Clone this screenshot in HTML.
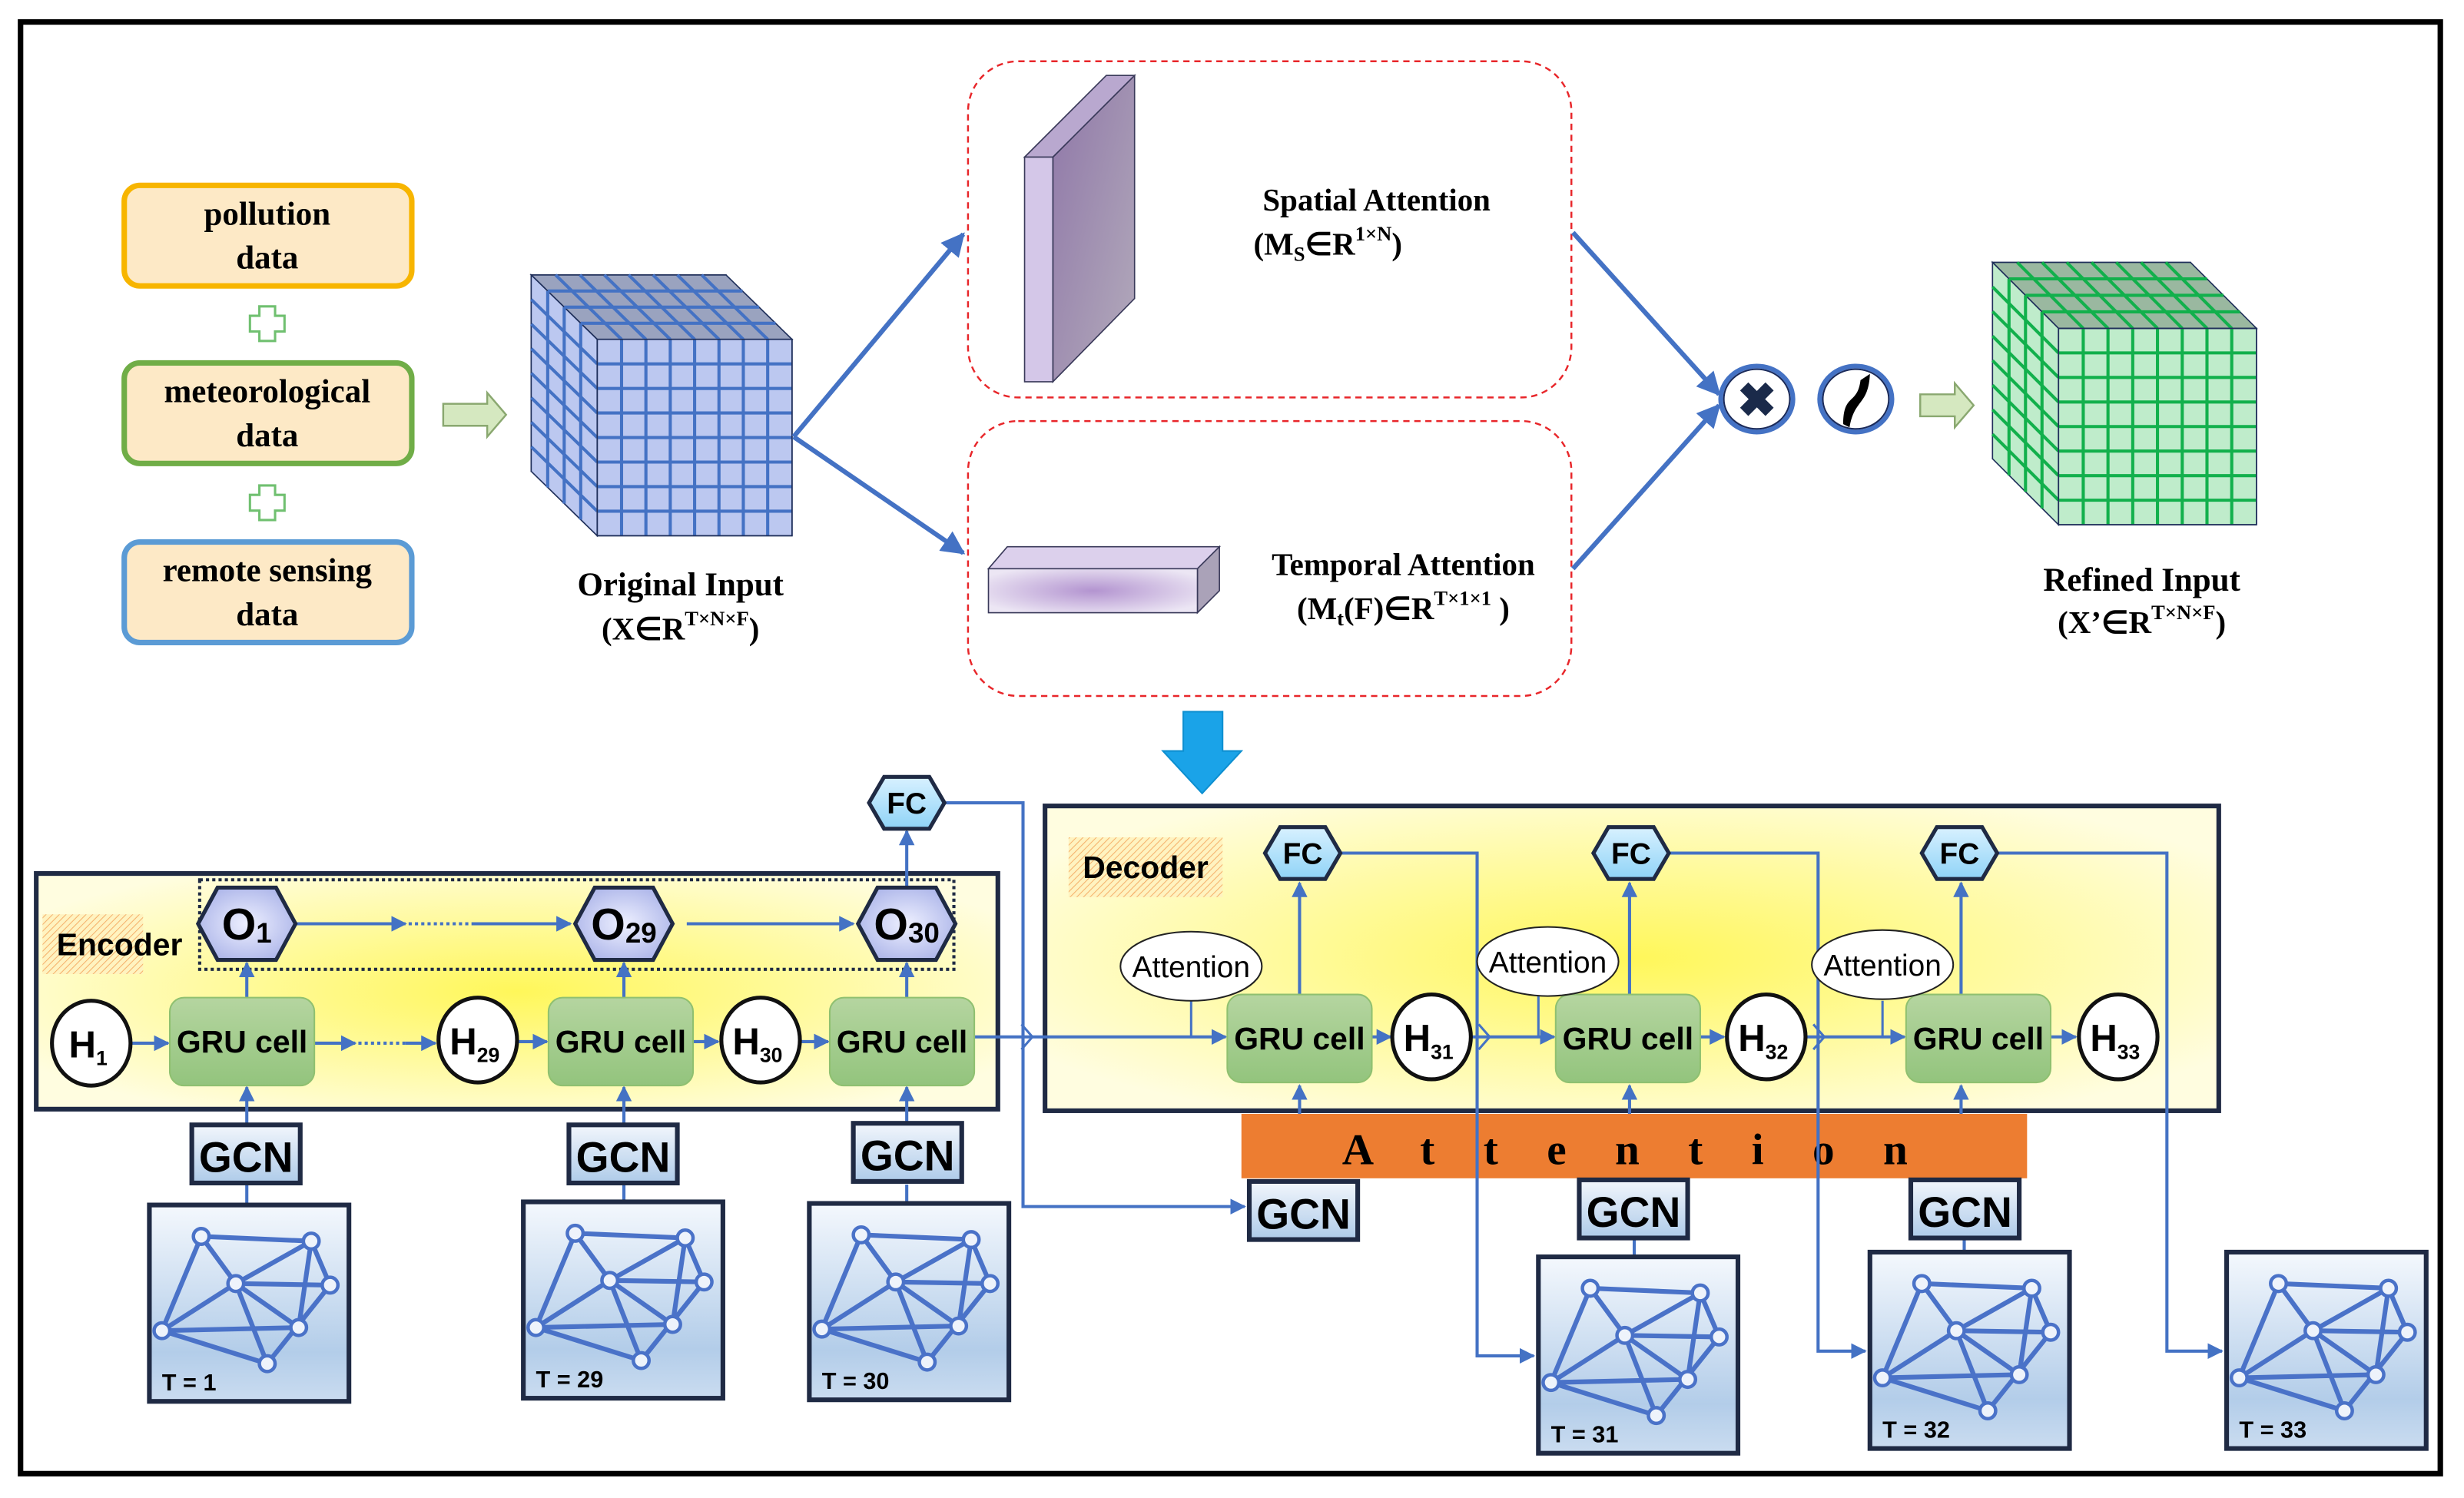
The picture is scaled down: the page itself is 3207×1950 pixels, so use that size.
<!DOCTYPE html>
<html><head><meta charset="utf-8"><style>html,body{margin:0;padding:0;background:#fff}svg{display:block}</style></head>
<body>
<svg id="s" xmlns="http://www.w3.org/2000/svg" width="3207" height="1950" viewBox="0 0 1568 953.5">
<defs>
<radialGradient id="yel" cx="50%" cy="50%" r="60%"><stop offset="0" stop-color="#fff75a"/><stop offset="1" stop-color="#fffde0"/></radialGradient>
<linearGradient id="gru" x1="0" y1="0" x2="0" y2="1"><stop offset="0" stop-color="#b5d5a0"/><stop offset="1" stop-color="#93c47d"/></linearGradient>
<linearGradient id="gcn" x1="0" y1="0" x2="0" y2="1"><stop offset="0" stop-color="#f2f6fc"/><stop offset="1" stop-color="#aecbe9"/></linearGradient>
<linearGradient id="gbox" x1="0" y1="0" x2="0" y2="1"><stop offset="0" stop-color="#f4f8fd"/><stop offset="0.75" stop-color="#b3cde9"/><stop offset="1" stop-color="#cadcf0"/></linearGradient>
<radialGradient id="hex" cx="50%" cy="50%" r="60%"><stop offset="0" stop-color="#eef0ff"/><stop offset="1" stop-color="#a9b2e8"/></radialGradient>
<linearGradient id="fc" x1="0" y1="0" x2="0" y2="1"><stop offset="0" stop-color="#d8f1ff"/><stop offset="1" stop-color="#8fd3f7"/></linearGradient>
<radialGradient id="pur" cx="50%" cy="50%" r="60%"><stop offset="0" stop-color="#b394d0"/><stop offset="1" stop-color="#ece6f4"/></radialGradient>
<linearGradient id="pur2" x1="0" y1="0" x2="1" y2="1"><stop offset="0" stop-color="#8f77a8"/><stop offset="1" stop-color="#b3abbb"/></linearGradient>
<pattern id="hatch" width="3" height="3" patternUnits="userSpaceOnUse" patternTransform="rotate(45)"><rect width="3" height="3" fill="#fff3c0"/><line x1="0" y1="0" x2="0" y2="3" stroke="#f5b06a" stroke-width="1"/></pattern>
<marker id="ar" viewBox="0 0 10 10" refX="9" refY="5" markerWidth="5" markerHeight="5" orient="auto"><path d="M0,0L10,5L0,10z" fill="#4472c4"/></marker>
</defs>
<rect x="13" y="14" width="1540" height="924" fill="#fff" stroke="#000" stroke-width="3.5"/>
<g id="g"></g>
</svg>
<script>
const g=document.getElementById('g');let h='';
const B='#4472c4';
function L(x1,y1,x2,y2,w,a){h+=`<line x1="${x1}" y1="${y1}" x2="${x2}" y2="${y2}" stroke="${B}" stroke-width="${w||2}" ${a?'marker-end="url(#ar)"':''}/>`;}
function P(d,w,a){h+=`<path d="${d}" fill="none" stroke="${B}" stroke-width="${w||2}" ${a?'marker-end="url(#ar)"':''}/>`;}
function T(x,y,s,sz,o){h+=`<text x="${x}" y="${y}" font-size="${sz}" ${o||''}>${s}</text>`;}
const SER='font-family="Liberation Serif,serif" font-weight="bold" text-anchor="middle"';
const SAN='font-family="Liberation Sans,sans-serif" font-weight="bold" text-anchor="middle"';
// input boxes
[[118,'#f7b500','pollution'],[231,'#70ad47','meteorological'],[345,'#5b9bd5','remote sensing']].forEach(b=>{
h+=`<rect x="79" y="${b[0]}" width="183" height="64" rx="10" fill="#fde9c6" stroke="${b[1]}" stroke-width="3.5"/>`;
T(170,b[0]+25,b[2],21,SER);T(170,b[0]+53,'data',21,SER);});
[206,320].forEach(y=>{h+=`<path d="M165,${y-11}h10v6h6v10h-6v6h-10v-6h-6v-10h6z" fill="#fff" stroke="#70c070" stroke-width="1.5" transform="translate(0,-0)"/>`;});
function garrow(x,y,w){h+=`<path d="M${x},${y-7}h${w-12}v-7l12,14l-12,14v-7h-${w-12}z" fill="#d5e8c0" stroke="#8aa870" stroke-width="1.2"/>`;}
garrow(282,264,40);garrow(1222,258,34);
// cube
function cube(fx,fy,fw,fh,dx,dy,fill,top,line,n){
 // back layers
 for(let k=3;k>=0;k--){const ox=dx*k/3, oy=dy*k/3;
  const x=fx+ox,y=fy+oy;
  h+=`<polygon points="${x},${y} ${x+fw},${y} ${x+fw},${y+fh} ${x},${y+fh}" fill="${fill}" stroke="#1f2f5a" stroke-width="0.8"/>`;
 }
 // top face
 h+=`<polygon points="${fx},${fy} ${fx+fw},${fy} ${fx+fw+dx},${fy+dy} ${fx+dx},${fy+dy}" fill="${top}" stroke="#1f2f5a" stroke-width="0.8"/>`;
 h+=`<polygon points="${fx},${fy} ${fx+dx},${fy+dy} ${fx+dx},${fy+fh+dy} ${fx},${fy+fh}" fill="${fill}" stroke="#1f2f5a" stroke-width="0.8"/>`;
 for(let i=1;i<n;i++){const x=fx+fw*i/n;L(0,0,0,0);h+=`<line x1="${x}" y1="${fy}" x2="${x}" y2="${fy+fh}" stroke="${line}" stroke-width="2"/><line x1="${x}" y1="${fy}" x2="${x+dx}" y2="${fy+dy}" stroke="${line}" stroke-width="2"/>`;
  const y=fy+fh*i/n;h+=`<line x1="${fx}" y1="${y}" x2="${fx+fw}" y2="${y}" stroke="${line}" stroke-width="2"/><line x1="${fx}" y1="${y}" x2="${fx+dx}" y2="${y+dy}" stroke="${line}" stroke-width="2"/>`;}
 for(let k=1;k<4;k++){const ox=dx*k/4,oy=dy*k/4;h+=`<line x1="${fx+ox}" y1="${fy+oy}" x2="${fx+fw+ox}" y2="${fy+oy}" stroke="${line}" stroke-width="2"/><line x1="${fx+ox}" y1="${fy+oy}" x2="${fx+ox}" y2="${fy+fh+oy}" stroke="${line}" stroke-width="2"/>`;}
 h+=`<rect x="${fx}" y="${fy}" width="${fw}" height="${fh}" fill="none" stroke="#1f2f5a" stroke-width="0.8"/>`;
}
cube(380,216,124,125,-42,-41,'#bcc8f0','#9aa3bf',B,8);
cube(1310,209,126,125,-42,-42,'#bfeccb','#9ab8a0','#12b04c',8);
T(433,379,'Original Input',21,SER);T(433,407,'(X∈R<tspan font-size="13" dy="-9">T×N×F</tspan><tspan dy="9">)</tspan>',20,SER);
T(1363,376,'Refined Input',21,SER);T(1363,403,'(X’∈R<tspan font-size="13" dy="-9">T×N×F</tspan><tspan dy="9">)</tspan>',20,SER);
// red dashed boxes
h+=`<rect x="616" y="39" width="384" height="214" rx="32" fill="none" stroke="#e8262a" stroke-width="1.2" stroke-dasharray="4,3"/>`;
h+=`<rect x="616" y="268" width="384" height="175" rx="32" fill="none" stroke="#e8262a" stroke-width="1.2" stroke-dasharray="4,3"/>`;
// spatial slab
h+=`<polygon points="670,100 722,48 722,190 670,243" fill="url(#pur2)" stroke="#3a3a5a" stroke-width="0.8"/>`;
h+=`<polygon points="652,100 704,48 722,48 670,100" fill="#b9a8cf" stroke="#3a3a5a" stroke-width="0.8"/>`;
h+=`<rect x="652" y="100" width="18" height="143" fill="#d4c7e8" stroke="#3a3a5a" stroke-width="0.8"/>`;
// temporal slab
h+=`<polygon points="629,362 641,348 776,348 762,362" fill="#dcd0ec" stroke="#3a3a5a" stroke-width="0.8"/>`;
h+=`<polygon points="762,362 776,348 776,376 762,390" fill="#aaa2b8" stroke="#3a3a5a" stroke-width="0.8"/>`;
h+=`<rect x="629" y="362" width="133" height="28" fill="url(#pur)" stroke="#3a3a5a" stroke-width="0.8"/>`;
T(876,134,'Spatial Attention',20,SER);T(845,162,'(M<tspan font-size="13" dy="4">S</tspan><tspan dy="-4">∈R</tspan><tspan font-size="13" dy="-9">1×N</tspan><tspan dy="9">)</tspan>',20,SER);
T(893,366,'Temporal Attention',20,SER);T(893,394,'(M<tspan font-size="13" dy="4">t</tspan><tspan dy="-4">(F)∈R</tspan><tspan font-size="13" dy="-9">T×1×1</tspan><tspan dy="9"> )</tspan>',20,SER);
L(505,278,613,149,3,1);L(505,278,613,352,3,1);L(1001,148,1094,251,3,1);L(1001,362,1094,258,3,1);
h+=`<ellipse cx="1118" cy="254" rx="23" ry="21" fill="#fff" stroke="${B}" stroke-width="3"/><ellipse cx="1118" cy="254" rx="21" ry="19" fill="none" stroke="#1a2a5a" stroke-width="1"/>`;
h+=`<text x="1118" y="265" font-size="30" font-family="Liberation Sans,sans-serif" font-weight="bold" fill="#1a2a4a" text-anchor="middle">✖</text>`;
h+=`<ellipse cx="1181" cy="254" rx="23" ry="21" fill="#fff" stroke="${B}" stroke-width="3"/><ellipse cx="1181" cy="254" rx="21" ry="19" fill="none" stroke="#1a2a5a" stroke-width="1"/>`;
h+=`<path d="M1173,270 C1173,250 1182,258 1184,242 L1190,238 C1189,258 1180,254 1177,272z" fill="#000"/>`;
// big blue down arrow
h+=`<path d="M753,453h25v25h12l-25,27l-25,-27h13z" fill="#1aa3e8" stroke="#0d8fd0" stroke-width="1"/>`;
// encoder / decoder boxes
h+=`<rect x="23" y="556" width="612" height="150" fill="url(#yel)" stroke="#1f2a44" stroke-width="3"/>`;
h+=`<rect x="665" y="513" width="747" height="194" fill="url(#yel)" stroke="#1f2a44" stroke-width="3"/>`;
h+=`<rect x="127" y="560" width="480" height="57" fill="none" stroke="#1f2a44" stroke-width="2" stroke-dasharray="2,2"/>`;
h+=`<rect x="27" y="582" width="64" height="38" fill="url(#hatch)"/>`;T(76,608,'Encoder',20,SAN);
h+=`<rect x="680" y="533" width="98" height="38" fill="url(#hatch)"/>`;T(729,559,'Decoder',20,SAN);
// orange attention bar
h+=`<rect x="790" y="709" width="500" height="41" fill="#ed7d31"/>`;
T(1040,741,'A t t e n t i o n',28,'font-family="Liberation Serif,serif" font-weight="bold" text-anchor="middle" letter-spacing="12"');
// connectors
L(84,664,107,664,2,1);L(200,664,226,664,2,1);h+=`<line x1="228" y1="664" x2="258" y2="664" stroke="${B}" stroke-width="2" stroke-dasharray="2,2"/>`;L(258,664,277,664,2,1);
L(330,663,348,663,2,1);L(441,663,457,663,2,1);L(510,663,527,663,2,1);
L(188,588,258,588,2,1);h+=`<line x1="260" y1="588" x2="300" y2="588" stroke="${B}" stroke-width="2" stroke-dasharray="2,2"/>`;L(300,588,363,588,2,1);L(437,588,543,588,2,1);
[157,397,577].forEach(x=>{L(x,635,x,613,2,1);L(x,716,x,692,2,1);});
[[157,767],[397,765],[577,766]].forEach(a=>L(a[0],754,a[0],a[1],2));
L(577,565,577,529,2,1);
P('M602,511H651V768H792',2,1);
L(620,660,780,660,2,1);P('M650,652l7,8l-7,8',1.5);
L(873,660,885,660,2,1);L(937,660,989,660,2,1);L(1082,660,1097,660,2,1);L(1150,660,1212,660,2,1);L(1305,660,1321,660,2,1);
P('M941,652l7,8l-7,8',1.5);P('M1154,652l7,8l-7,8',1.5);
[[758,637],[979,634],[1198,637]].forEach(a=>L(a[0],a[1],a[0],660,1.5));
[827,1037,1248].forEach(x=>{L(x,633,x,562,2,1);L(x,709,x,691,2,1);});
L(1040,787,1040,800,2);L(1250,786,1250,797,2);
P('M854,543H940V863H976',2,1);P('M1063,543H1157V860H1187',2,1);P('M1272,543H1379V860H1414',2,1);
// GRU cells
[[108,635],[349,635],[528,635],[781,633],[990,633],[1213,633]].forEach(a=>{
h+=`<rect x="${a[0]}" y="${a[1]}" width="92" height="56" rx="9" fill="url(#gru)" stroke="#8fc070" stroke-width="1"/>`;T(a[0]+46,a[1]+35,'GRU cell',20,SAN);});
// H circles
[[58,664,'1'],[304,662,'29'],[484,662,'30'],[911,660,'31'],[1124,660,'32'],[1348,660,'33']].forEach(a=>{
h+=`<ellipse cx="${a[0]}" cy="${a[1]}" rx="25" ry="27" fill="#fff" stroke="#111" stroke-width="2.5"/>`;
T(a[0]-2,a[1]+9,'H<tspan font-size="13" dy="5">'+a[2]+'</tspan>',24,SAN);});
// hexes
function hex(cx,cy,w,hh,fill,txt,sz){const q=w*0.2;
h+=`<polygon points="${cx-w/2},${cy} ${cx-w/2+q},${cy-hh/2} ${cx+w/2-q},${cy-hh/2} ${cx+w/2},${cy} ${cx+w/2-q},${cy+hh/2} ${cx-w/2+q},${cy+hh/2}" fill="${fill}" stroke="#1f2a44" stroke-width="2.5"/>`;
T(cx,cy+sz*0.36,txt,sz,SAN);}
hex(157,588,62,46,'url(#hex)','O<tspan font-size="18" dy="2">1</tspan>',28);
hex(397,588,62,46,'url(#hex)','O<tspan font-size="18" dy="2">29</tspan>',28);
hex(577,588,62,46,'url(#hex)','O<tspan font-size="18" dy="2">30</tspan>',28);
[[577,511],[829,543],[1038,543],[1247,543]].forEach(a=>hex(a[0],a[1],48,33,'url(#fc)','FC',19));
// attention ellipses
[[758,615],[985,612],[1198,614]].forEach(a=>{h+=`<ellipse cx="${a[0]}" cy="${a[1]}" rx="45" ry="22" fill="#fff" stroke="#222" stroke-width="1"/>`;T(a[0],a[1]+7,'Attention',19,'font-family="Liberation Sans,sans-serif" text-anchor="middle"');});
// GCN boxes
[[122,716],[362,716],[543,715],[795,752],[1005,751],[1216,751]].forEach(a=>{
h+=`<rect x="${a[0]}" y="${a[1]}" width="69" height="37" fill="url(#gcn)" stroke="#1f2a44" stroke-width="3"/>`;T(a[0]+34.5,a[1]+30,'GCN',27,SAN);});
// graph boxes
const N=[[33,20],[103,23],[55,50],[115,51],[8,80],[95,78],[75,101]];
const E=[[0,1],[0,2],[0,4],[1,2],[1,5],[1,3],[2,3],[2,4],[2,5],[2,6],[3,6],[4,5],[4,6]];
[[95,767,'1'],[333,765,'29'],[515,766,'30'],[979,800,'31'],[1190,797,'32'],[1417,797,'33']].forEach(a=>{
const x=a[0],y=a[1];
h+=`<rect x="${x}" y="${y}" width="127" height="125" fill="url(#gbox)" stroke="#1f2a44" stroke-width="3"/>`;
E.forEach(e=>{h+=`<line x1="${x+N[e[0]][0]}" y1="${y+N[e[0]][1]}" x2="${x+N[e[1]][0]}" y2="${y+N[e[1]][1]}" stroke="#4a72c8" stroke-width="3"/>`;});
N.forEach(n=>{h+=`<circle cx="${x+n[0]}" cy="${y+n[1]}" r="5" fill="#eef3fb" stroke="#4a72c8" stroke-width="2.2"/>`;});
T(x+8,y+118,'T = '+a[2],15,'font-family="Liberation Sans,sans-serif" font-weight="bold"');});
g.innerHTML=h;
</script>
</body></html>
